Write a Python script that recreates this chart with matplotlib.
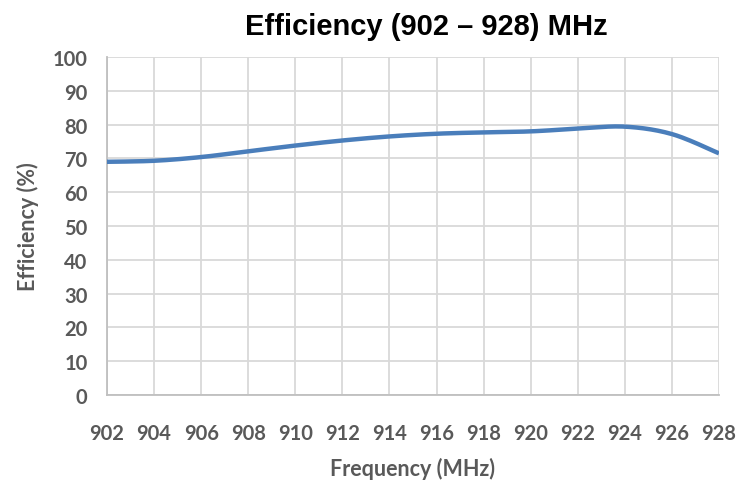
import numpy as np
import matplotlib.pyplot as plt

freq = [902, 904, 906, 908, 910, 912, 914, 916, 918, 920, 922, 924, 926, 928]
eff = [69.0, 69.3, 70.4, 72.1, 73.8, 75.3, 76.5, 77.3, 77.7, 78.0, 78.8, 79.4, 77.2, 71.5]


def smooth(x, y, n=20):
    # Excel-like smoothed line (Catmull-Rom / cardinal spline)
    x = np.asarray(x, float)
    y = np.asarray(y, float)
    px = np.concatenate([[x[0]], x, [x[-1]]])
    py = np.concatenate([[y[0]], y, [y[-1]]])
    xs, ys = [], []
    t = np.linspace(0, 1, n, endpoint=False)
    for i in range(1, len(px) - 2):
        p0, p1, p2, p3 = (np.array([px[j], py[j]]) for j in range(i - 1, i + 3))
        c1 = p1 + (p2 - p0) / 6.0
        c2 = p2 - (p3 - p1) / 6.0
        b = ((1 - t) ** 3)[:, None] * p1 + (3 * (1 - t) ** 2 * t)[:, None] * c1 \
            + (3 * (1 - t) * t ** 2)[:, None] * c2 + (t ** 3)[:, None] * p2
        xs.extend(b[:, 0])
        ys.extend(b[:, 1])
    xs.append(x[-1])
    ys.append(y[-1])
    return xs, ys


plt.rcParams['font.family'] = ['Lato', 'DejaVu Sans']
gray = '#595959'

fig = plt.figure(figsize=(7.55, 4.81), dpi=100)
ax = fig.add_axes([0.1417, 0.1767, 0.8106, 0.7027])

sx, sy = smooth(freq, eff)
ax.plot(sx, sy, color='#4A7EBB', lw=3.2, solid_capstyle='butt', zorder=3)

ax.set_xlim(902, 928)
ax.set_ylim(0, 100)
ax.set_xticks(freq)
ax.set_yticks(np.arange(0, 101, 10))
ax.grid(True, color='#D9D9D9', lw=1.3)
ax.tick_params(length=0, labelsize=14.5, labelcolor=gray)
ax.tick_params(axis='x', pad=20)
ax.tick_params(axis='y', pad=14)
for lab in ax.get_xticklabels() + ax.get_yticklabels():
    lab.set_fontweight('bold')
for s in ['top', 'right']:
    ax.spines[s].set_visible(False)
for s in ['left', 'bottom']:
    ax.spines[s].set_color('#BFBFBF')
    ax.spines[s].set_linewidth(1.3)

ax.set_xlabel('Frequency (MHz)', fontsize=15.5, fontweight='bold', color=gray, labelpad=10)
ax.set_ylabel('Efficiency (%)', fontsize=15.5, fontweight='bold', color=gray, labelpad=10)
fig.text(0.564, 0.944, 'Efficiency (902 \u2013 928) MHz', ha='center', va='center',
         fontsize=21, fontweight='bold', color='black', family='Liberation Sans')

plt.savefig('out.png', dpi=100)
